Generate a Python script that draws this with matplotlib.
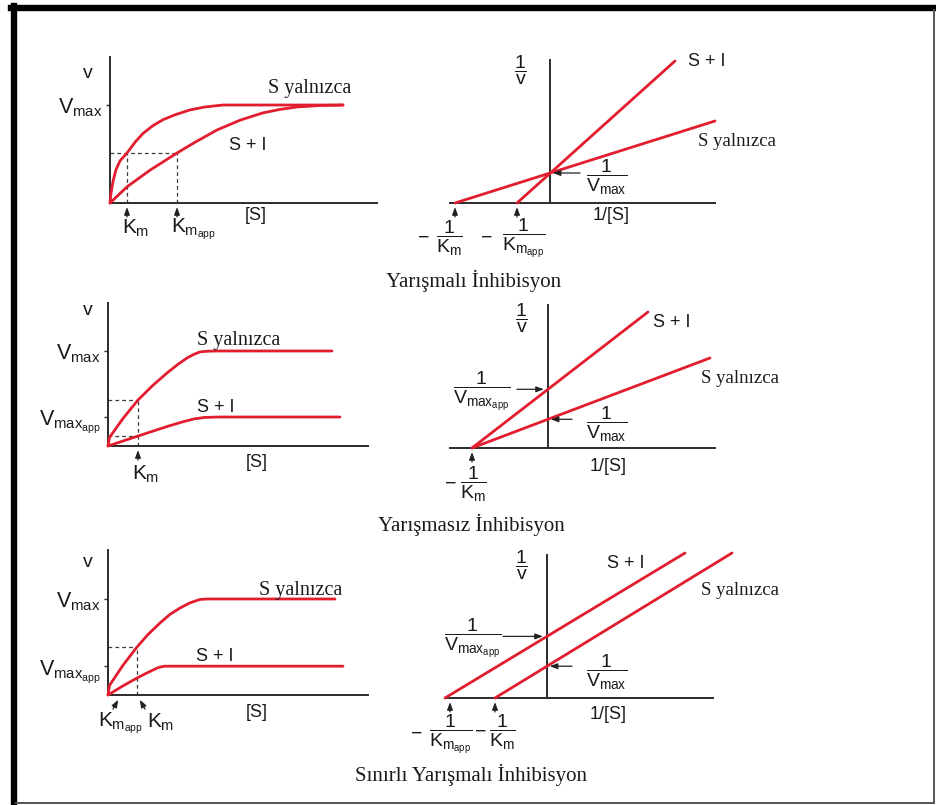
import matplotlib
matplotlib.use('Agg')
import matplotlib.pyplot as plt
from matplotlib.transforms import Affine2D
from matplotlib.lines import Line2D

W, H = 936, 805
RED = '#e11d2e'
AXC = '#2b2b2b'
DASHC = '#3a3a3a'

plt.rcParams['font.family'] = ['Liberation Sans', 'DejaVu Sans']
plt.rcParams['mathtext.fontset'] = 'custom'
plt.rcParams['mathtext.rm'] = 'Liberation Sans'
plt.rcParams['mathtext.it'] = 'Liberation Sans'
plt.rcParams['mathtext.bf'] = 'Liberation Sans:bold'
SERIF = ['Liberation Serif', 'DejaVu Serif']

# ---------------- data ----------------
# Competitive inhibition: v against [S]
comp_s_x = [0, 0.1, 0.3, 0.6, 1.0, 1.7, 2.5, 3.3, 4.3, 5.3, 6.5, 8.0, 9.5, 11.3, 23.3]
comp_s_v = [0, 0.10, 0.22, 0.34, 0.43, 0.51, 0.62, 0.71, 0.79, 0.85, 0.90, 0.95, 0.98, 1.0, 1.0]
comp_si_x = [0, 1.7, 4.0, 6.7, 8.5, 10.7, 13.0, 15.3, 17.0, 18.7, 21.0, 23.3]
comp_si_v = [0, 0.165, 0.335, 0.51, 0.62, 0.745, 0.845, 0.92, 0.955, 0.98, 0.995, 1.0]
comp_vmax = 1.0
comp_km = 1.7
comp_km_app = 6.7
comp_half = 0.51

# Competitive inhibition: 1/v against 1/[S]
comp_lb_s_x = [-9.5, 16.5]
comp_lb_s_y = [0, 8.2]
comp_lb_si_x = [-3.3, 12.5]
comp_lb_si_y = [0, 14.2]
comp_inv_vmax = 3.0

# Noncompetitive inhibition: v against [S]
nonc_s_x = [0, 0.15, 1.5, 3.0, 4.5, 5.9, 7.0, 7.9, 8.6, 9.2, 10.0, 11.2, 22.4]
nonc_s_v = [0, 0.09, 0.29, 0.484, 0.64, 0.768, 0.86, 0.926, 0.965, 0.99, 0.998, 1.0, 1.0]
nonc_si_x = [0, 3.0, 5.9, 7.5, 8.6, 9.6, 11.0, 23.2]
nonc_si_v = [0, 0.105, 0.205, 0.255, 0.285, 0.30, 0.305, 0.305]
nonc_vmax = 1.0
nonc_vmax_app = 0.305
nonc_km = 3.0
nonc_dash_hi = 0.484
nonc_dash_lo = 0.105

# Noncompetitive inhibition: 1/v against 1/[S]
nonc_lb_s_x = [-7.6, 16.2]
nonc_lb_s_y = [0, 9.0]
nonc_lb_si_x = [-7.6, 10.0]
nonc_lb_si_y = [0, 13.6]
nonc_inv_vmax = 2.87
nonc_inv_vmax_app = 5.87

# Uncompetitive inhibition: v against [S]
unc_s_x = [0, 0.15, 1.5, 2.9, 4.0, 5.2, 6.2, 7.2, 8.2, 9.2, 10.0, 22.7]
unc_s_v = [0, 0.10, 0.31, 0.50, 0.63, 0.75, 0.84, 0.906, 0.96, 0.995, 1.0, 1.0]
unc_si_x = [0, 1.5, 2.9, 3.8, 4.5, 5.0, 5.6, 23.5]
unc_si_v = [0, 0.095, 0.177, 0.225, 0.26, 0.285, 0.30, 0.30]
unc_vmax = 1.0
unc_vmax_app = 0.30
unc_km = 2.9
unc_km_app = 1.3
unc_half = 0.50

# Uncompetitive inhibition: 1/v against 1/[S]
unc_lb_s_x = [-5.2, 18.5]
unc_lb_s_y = [0, 14.5]
unc_lb_si_x = [-10.2, 13.8]
unc_lb_si_y = [0, 14.5]
unc_inv_vmax = 3.18
unc_inv_vmax_app = 6.16

titles = ['Yarışmalı İnhibisyon', 'Yarışmasız İnhibisyon', 'Sınırlı Yarışmalı İnhibisyon']

S_ALONE = 'S yalnızca'
S_PLUS_I = 'S + I'
VMAX = r'$V_{max}$'
VMAXAPP = r'$V_{max_{app}}$'
KM = r'$K_m$'
KMAPP = r'$K_{m_{app}}$'
INV_V = r'$\dfrac{1}{v}$'
INV_VMAX = r'$\dfrac{1}{V_{max}}$'
INV_VMAXAPP = r'$\dfrac{1}{V_{max_{app}}}$'
INV_KM = r'$\dfrac{1}{K_m}$'
INV_KMAPP = r'$\dfrac{1}{K_{m_{app}}}$'

SANS_SZ = 13
FRAC_SZ = 14
SERIF_L = 14.5
SERIF_R = 13.5
TITLE_SZ = 15

# ---------------- figure ----------------
fig = plt.figure(figsize=(W / 100, H / 100), dpi=100)
pix = Affine2D().scale(1 / W, -1 / H).translate(0, 1) + fig.transFigure


def txt(x, y, s, size=SANS_SZ, family=None, **kw):
    kw.setdefault('ha', 'center')
    kw.setdefault('va', 'center')
    fam = family if family is not None else ['Liberation Sans', 'DejaVu Sans']
    fig.text(x, y, s, transform=pix, fontsize=size, family=fam, color='#1a1a1a', **kw)


def neg_frac(xm, xf, y, s):
    txt(xm, y, '\u2212', FRAC_SZ)
    txt(xf, y, s, FRAC_SZ)


def panel(x0, ytop, x1, ybot, xlim, ylim, zero_left=False):
    ax = fig.add_axes([x0 / W, 1 - ybot / H, (x1 - x0) / W, (ybot - ytop) / H])
    ax.set_xlim(xlim)
    ax.set_ylim(ylim)
    ax.patch.set_alpha(0)
    for sp in ('top', 'right'):
        ax.spines[sp].set_visible(False)
    for sp in ('left', 'bottom'):
        ax.spines[sp].set_color(AXC)
        ax.spines[sp].set_linewidth(1.4)
    if zero_left:
        ax.spines['left'].set_position(('data', 0))
    ax.set_xticks([])
    ax.set_yticks([])
    return ax


def curve(ax, x, y):
    ax.plot(x, y, color=RED, lw=2.0, solid_capstyle='round', clip_on=False, zorder=3)


def dashed(ax, x, y):
    ax.plot(x, y, color=DASHC, lw=0.9, ls=(0, (3, 2.5)), clip_on=False, zorder=2)


def arrow(ax, xy, dx, dy, shrink=3):
    ax.annotate('', xy=xy, xycoords='data', xytext=(dx, dy), textcoords='offset pixels',
                arrowprops=dict(arrowstyle='-|>,head_length=0.45,head_width=0.17',
                                color='#222222', lw=0.9, shrinkA=0, shrinkB=shrink),
                annotation_clip=False)


def vticks(ax, vals, labels):
    ax.set_yticks(vals)
    ax.set_yticklabels(labels)
    ax.tick_params(axis='y', direction='out', length=3, width=1, color=AXC, pad=2,
                   labelsize=15.5, labelcolor='#1a1a1a')


# ----- competitive: v vs [S] -----
a1 = panel(110, 57, 377, 203, (0, 26.7), (0, 1.49))
curve(a1, comp_s_x, comp_s_v)
curve(a1, comp_si_x, comp_si_v)
dashed(a1, [0, comp_km_app], [comp_half, comp_half])
dashed(a1, [comp_km, comp_km], [0, comp_half])
dashed(a1, [comp_km_app, comp_km_app], [0, comp_half])
vticks(a1, [comp_vmax], [VMAX])
arrow(a1, (comp_km, 0), 0, -14)
arrow(a1, (comp_km_app, 0), 0, -14)
txt(88, 74, 'v', 14)
txt(310, 88, S_ALONE, SERIF_L, SERIF)
txt(248, 145, S_PLUS_I)
txt(256, 215, '[S]')
txt(122, 228, KM, 15, ha='left')
txt(171, 229, KMAPP, 15, ha='left')

# ----- competitive: Lineweaver-Burk -----
a2 = panel(450, 60, 715, 203, (-10, 16.5), (0, 14.3), zero_left=True)
curve(a2, comp_lb_s_x, comp_lb_s_y)
curve(a2, comp_lb_si_x, comp_lb_si_y)
arrow(a2, (0, comp_inv_vmax), 30, 0, 2)
arrow(a2, (comp_lb_s_x[0], 0), 0, -14)
arrow(a2, (comp_lb_si_x[0], 0), 0, -14)
txt(520, 70, INV_V, FRAC_SZ)
txt(707, 62, S_PLUS_I)
txt(737, 142, S_ALONE, SERIF_R, SERIF)
txt(607, 177, INV_VMAX, FRAC_SZ)
txt(611, 215, '1/[S]')
neg_frac(424, 449, 238, INV_KM)
neg_frac(487, 524, 238, INV_KMAPP)

txt(474, 281, titles[0], TITLE_SZ, SERIF)

# ----- noncompetitive: v vs [S] -----
a3 = panel(108, 303, 368, 446, (0, 26.0), (0, 1.505))
curve(a3, nonc_s_x, nonc_s_v)
curve(a3, nonc_si_x, nonc_si_v)
dashed(a3, [0, nonc_km], [nonc_dash_hi, nonc_dash_hi])
dashed(a3, [0, nonc_km], [nonc_dash_lo, nonc_dash_lo])
dashed(a3, [nonc_km, nonc_km], [0, nonc_dash_hi])
vticks(a3, [nonc_vmax, nonc_vmax_app], [VMAX, VMAXAPP])
arrow(a3, (nonc_km, 0), 0, -14)
txt(88, 310, 'v', 14)
txt(239, 340, S_ALONE, SERIF_L, SERIF)
txt(216, 407, S_PLUS_I)
txt(257, 462, '[S]')
txt(132, 474, KM, 15, ha='left')

# ----- noncompetitive: Lineweaver-Burk -----
a4 = panel(450, 305, 715, 448, (-9.8, 16.7), (0, 14.3), zero_left=True)
curve(a4, nonc_lb_s_x, nonc_lb_s_y)
curve(a4, nonc_lb_si_x, nonc_lb_si_y)
arrow(a4, (0, nonc_inv_vmax), 24, 0, 2)
arrow(a4, (0, nonc_inv_vmax_app), -31, 0, 3)
arrow(a4, (nonc_lb_s_x[0], 0), 0, -14)
txt(521, 318, INV_V, FRAC_SZ)
txt(672, 322, S_PLUS_I)
txt(740, 378, S_ALONE, SERIF_R, SERIF)
txt(482, 391, INV_VMAXAPP, FRAC_SZ)
txt(607, 424, INV_VMAX, FRAC_SZ)
txt(608, 466, '1/[S]')
neg_frac(451, 473, 484, INV_KM)

txt(471, 525, titles[1], TITLE_SZ, SERIF)

# ----- uncompetitive: v vs [S] -----
a5 = panel(108, 550, 368, 695, (0, 26.0), (0, 1.51))
curve(a5, unc_s_x, unc_s_v)
curve(a5, unc_si_x, unc_si_v)
dashed(a5, [0, unc_km], [unc_half, unc_half])
dashed(a5, [unc_km, unc_km], [0, unc_half])
vticks(a5, [unc_vmax, unc_vmax_app], [VMAX, VMAXAPP])
arrow(a5, (unc_km_app, 0), -8, -14, 4)
arrow(a5, (unc_km, 0), 8, -14, 4)
txt(88, 562, 'v', 14)
txt(301, 590, S_ALONE, SERIF_L, SERIF)
txt(215, 656, S_PLUS_I)
txt(257, 712, '[S]')
txt(120, 723, KMAPP, 15)
txt(161, 722, KM, 15)

# ----- uncompetitive: Lineweaver-Burk -----
a6 = panel(445, 555, 713, 698, (-10.2, 16.6), (0, 14.3), zero_left=True)
curve(a6, unc_lb_s_x, unc_lb_s_y)
curve(a6, unc_lb_si_x, unc_lb_si_y)
arrow(a6, (0, unc_inv_vmax), 25, 0, 2)
arrow(a6, (0, unc_inv_vmax_app), -44, 0, 3)
arrow(a6, (unc_lb_si_x[0] + 0.5, 0), 0, -14)
arrow(a6, (unc_lb_s_x[0], 0), 0, -14)
txt(521, 565, INV_V, FRAC_SZ)
txt(626, 563, S_PLUS_I)
txt(740, 590, S_ALONE, SERIF_R, SERIF)
txt(473, 638, INV_VMAXAPP, FRAC_SZ)
txt(607, 672, INV_VMAX, FRAC_SZ)
txt(608, 714, '1/[S]')
neg_frac(417, 451, 734, INV_KMAPP)
neg_frac(481, 502, 732, INV_KM)

txt(471, 775, titles[2], TITLE_SZ, SERIF)

# ----- frame -----
fig.add_artist(Line2D([11, 936], [8, 8], transform=pix, color='black', lw=4.6))
fig.add_artist(Line2D([14, 14], [6, 804], transform=pix, color='black', lw=4.6))
fig.add_artist(Line2D([934, 934], [10, 803], transform=pix, color='#555555', lw=1.4))
fig.add_artist(Line2D([16, 934], [802.5, 802.5], transform=pix, color='#555555', lw=1.4))

fig.savefig('out.png', dpi=100)
